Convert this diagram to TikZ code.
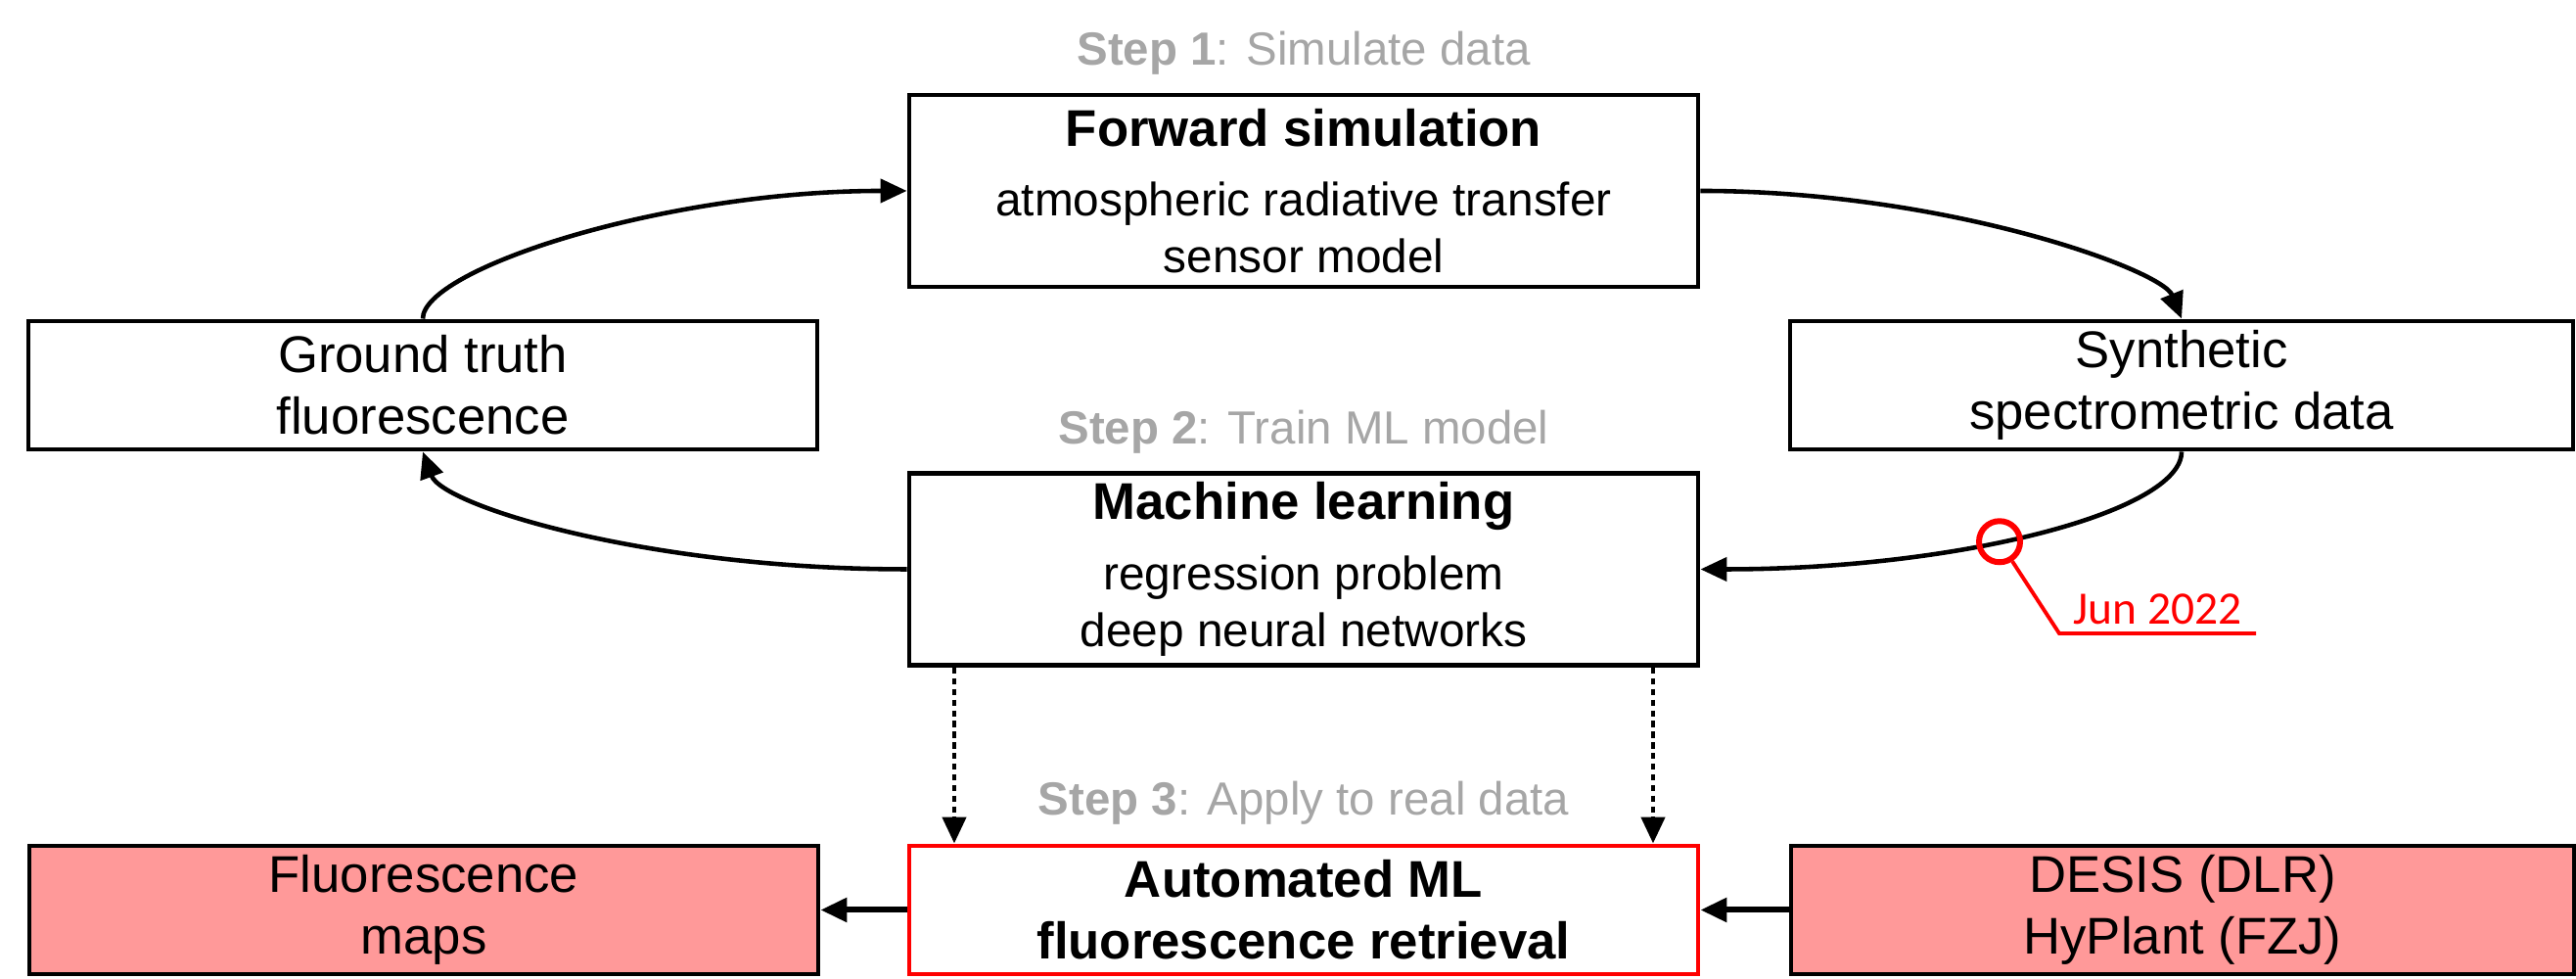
\documentclass[tikz,border=0pt]{standalone}
\usepackage{fontspec}
\setmainfont{Liberation Sans}
\newfontfamily\datefont{Carlito}
\usetikzlibrary{arrows.meta,positioning,calc}

\definecolor{stepgray}{RGB}{166,166,166}
\definecolor{mappink}{RGB}{255,153,153}

\newcommand{\boxtitle}[1]{{\bfseries\fontsize{15}{18}\selectfont #1}}

\begin{document}
\begin{tikzpicture}[
    >={Triangle[length=0.27cm,width=0.24cm]},
    blockbox/.style={draw, line width=1.4pt, minimum width=8.06cm, align=center, inner sep=0pt},
    bigbox/.style={blockbox, minimum height=1.96cm, font=\fontsize{13.6}{16.4}\selectfont},
    smallbox/.style={blockbox, minimum height=1.31cm, font=\fontsize{15}{18}\selectfont},
    steplabel/.style={anchor=base, text=stepgray, font=\fontsize{13.5}{16}\selectfont},
    flow/.style={->, line width=1.3pt},
    apply/.style={->, line width=1.3pt, dash pattern=on 1.8pt off 1.3pt},
    feed/.style={->, line width=1.7pt}
]
    \useasboundingbox (0,0) rectangle (26.32,10);

    % Step 1: forward model
    \node[steplabel] (step1) at (13.32,9.33) {\textbf{Step 1}: Simulate data};
    \node[bigbox] (fwd) at (13.32,8.05) {\boxtitle{Forward simulation}\\[4pt] atmospheric radiative transfer\\ sensor model};
    \node[smallbox] (truth) at (4.32,6.065) {Ground truth\\ fluorescence};
    \node[smallbox, minimum width=8.0cm] (synth) at (22.29,6.065) {Synthetic\\ spectrometric data};

    % Step 2: training
    \node[steplabel] (step2) at (13.32,5.46) {\textbf{Step 2}: Train ML model};
    \node[bigbox] (ml) at (13.32,4.185) {\boxtitle{Machine learning}\\[4pt] regression problem\\ deep neural networks};

    % Step 3: real data
    \node[steplabel] (step3) at (13.32,1.67) {\textbf{Step 3}: Apply to real data};
    \node[smallbox, fill=mappink] (maps) at (4.33,0.705) {Fluorescence\\ maps};
    \node[smallbox, draw=red, font=\bfseries\fontsize{15}{18}\selectfont] (auto) at (13.32,0.705) {Automated ML\\ fluorescence retrieval};
    \node[smallbox, fill=mappink, minimum width=8.0cm] (sensors) at (22.30,0.705) {DESIS (DLR)\\ HyPlant (FZJ)};

    % Loop
    \draw[flow] (truth.north) .. controls +(0,0.5) and +(-2.5,0) .. (fwd.west);
    \draw[flow] (fwd.east) .. controls +(2.5,0) and +(-0.2,0.5) .. (synth.north);
    \draw[flow] (synth.south) .. controls +(0,-0.61) and +(2.65,0) .. (ml.east) coordinate[pos=0.57] (junmark);
    \draw[flow] (ml.west) .. controls +(-2.65,0) and +(0.2,-0.55) .. (truth.south);

    % Trained model is applied
    \draw[apply] ([xshift=-3.57cm]ml.south) -- ([xshift=-3.57cm]auto.north);
    \draw[apply] ([xshift=3.57cm]ml.south) -- ([xshift=3.57cm]auto.north);
    \draw[feed] (auto.west) -- (maps.east);
    \draw[feed] (sensors.west) -- (auto.east);

    % Milestone
    \node[circle, draw=red, line width=1.7pt, minimum size=0.42cm, inner sep=0pt] (junring) at (junmark) {};
    \coordinate (junknee) at (21.04,3.53);
    \coordinate (junend) at (23.05,3.53);
    \draw[red, line width=1.1pt] (junring.-57) -- (junknee) -- (junend) node[midway, above, inner sep=2pt, font=\datefont\fontsize{13.5}{16}\selectfont] (junlabel) {Jun 2022};
\end{tikzpicture}
\end{document}
